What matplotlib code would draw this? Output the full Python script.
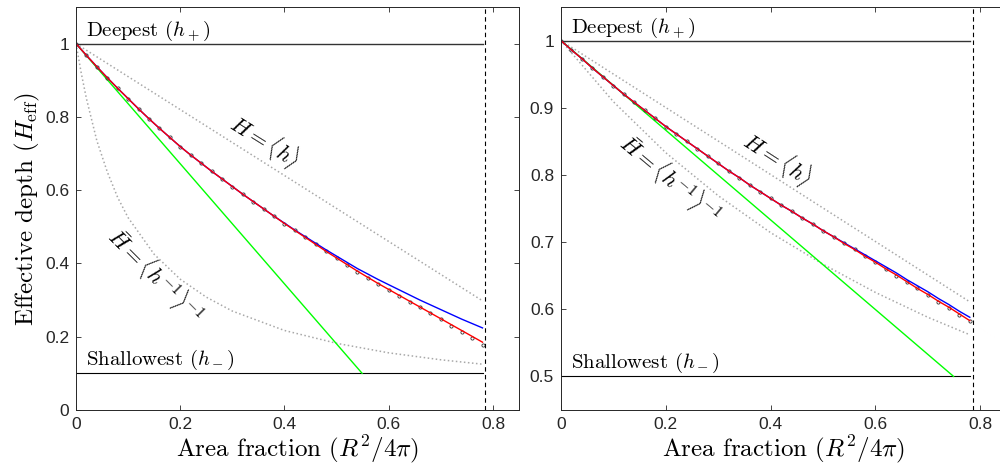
import numpy as np
import matplotlib
matplotlib.use('Agg')
import matplotlib.pyplot as plt

plt.rcParams['mathtext.fontset'] = 'cm'
plt.rcParams['font.family'] = ['Liberation Sans', 'DejaVu Sans']

# ---------------------------  DATA  ---------------------------
X_END = 0.78            # curves stop here
X_MAX = 0.7854          # dashed vertical line (pi/4)
grid = np.round(np.arange(0, 0.781, 0.02), 2)

# left panel: h+ = 1, h- = 0.1
leftDeep, leftShallow = 1.0, 0.1
leftMeanX = [0, 0.78]
leftMeanY = [1.0, 0.298]
leftHarmX = [0, 0.01, 0.02, 0.04, 0.06, 0.08, 0.10, 0.15, 0.20, 0.25, 0.30, 0.40, 0.50, 0.60, 0.70, 0.78]
leftHarmY = [1, 0.92, 0.85, 0.735, 0.65, 0.58, 0.525, 0.425, 0.357, 0.308, 0.27, 0.217, 0.182, 0.156, 0.137, 0.125]
leftGreenX = [0, 0.549]
leftGreenY = [1.0, 0.1]
leftRed = [1.000, 0.968, 0.937, 0.907, 0.878, 0.850, 0.822, 0.795, 0.769, 0.744,
           0.719, 0.696, 0.674, 0.652, 0.631, 0.610, 0.589, 0.569, 0.549, 0.529,
           0.509, 0.490, 0.471, 0.452, 0.433, 0.415, 0.397, 0.379, 0.362, 0.345,
           0.329, 0.313, 0.297, 0.281, 0.265, 0.249, 0.233, 0.217, 0.201, 0.185]
leftBlue = [1.000, 0.968, 0.937, 0.907, 0.878, 0.850, 0.822, 0.795, 0.769, 0.744,
            0.719, 0.696, 0.674, 0.652, 0.631, 0.610, 0.589, 0.569, 0.549, 0.529,
            0.510, 0.491, 0.473, 0.455, 0.437, 0.420, 0.403, 0.386, 0.371, 0.356,
            0.342, 0.328, 0.314, 0.300, 0.287, 0.274, 0.261, 0.248, 0.236, 0.224]
leftDots = [1.000, 0.968, 0.937, 0.907, 0.878, 0.850, 0.822, 0.795, 0.769, 0.744,
            0.719, 0.696, 0.674, 0.652, 0.631, 0.610, 0.589, 0.569, 0.549, 0.529,
            0.509, 0.490, 0.471, 0.452, 0.433, 0.414, 0.396, 0.378, 0.361, 0.344,
            0.328, 0.312, 0.296, 0.280, 0.264, 0.247, 0.230, 0.213, 0.196, 0.177]

# right panel: h+ = 1, h- = 0.5
rightDeep, rightShallow = 1.0, 0.5
rightMeanX = [0, 0.78]
rightMeanY = [1.0, 0.611]
rightHarmX = [0, 0.1, 0.2, 0.3, 0.4, 0.5, 0.6, 0.7, 0.78]
rightHarmY = [1, 0.909, 0.833, 0.769, 0.714, 0.667, 0.625, 0.588, 0.562]
rightGreenX = [0, 0.749]
rightGreenY = [1.0, 0.5]
rightRed = [1.000, 0.986, 0.973, 0.959, 0.946, 0.933, 0.920, 0.908, 0.896, 0.884,
            0.872, 0.861, 0.850, 0.839, 0.828, 0.817, 0.806, 0.796, 0.785, 0.775,
            0.765, 0.755, 0.746, 0.736, 0.727, 0.717, 0.708, 0.698, 0.689, 0.679,
            0.670, 0.660, 0.651, 0.641, 0.631, 0.622, 0.612, 0.603, 0.593, 0.583]
rightBlue = [1.000, 0.986, 0.973, 0.959, 0.946, 0.933, 0.920, 0.908, 0.896, 0.884,
             0.872, 0.861, 0.850, 0.839, 0.828, 0.817, 0.806, 0.796, 0.785, 0.775,
             0.765, 0.755, 0.746, 0.736, 0.727, 0.717, 0.708, 0.699, 0.690, 0.681,
             0.672, 0.663, 0.654, 0.644, 0.635, 0.626, 0.616, 0.607, 0.597, 0.588]
rightDots = [1.000, 0.986, 0.973, 0.959, 0.946, 0.933, 0.920, 0.908, 0.896, 0.884,
             0.872, 0.861, 0.850, 0.839, 0.828, 0.817, 0.806, 0.796, 0.785, 0.775,
             0.765, 0.755, 0.746, 0.736, 0.727, 0.717, 0.708, 0.698, 0.689, 0.679,
             0.670, 0.660, 0.650, 0.641, 0.631, 0.621, 0.611, 0.602, 0.592, 0.582]

xTicks = [0, 0.2, 0.4, 0.6, 0.8]
xTickLabels = ['0', '0.2', '0.4', '0.6', '0.8']
leftYTicks = [0, 0.2, 0.4, 0.6, 0.8, 1.0]
leftYTickLabels = ['0', '0.2', '0.4', '0.6', '0.8', '1']
rightYTicks = [0.5, 0.6, 0.7, 0.8, 0.9, 1.0]
rightYTickLabels = ['0.5', '0.6', '0.7', '0.8', '0.9', '1']

SERIF = 'cmr10'
AXCOL = '#262626'


def drawPanel(ax, deep, shallow, meanX, meanY, harmX, harmY, greenX, greenY,
              red, blue, dots, ylim, yTicks, yTickLabels):
    ax.plot(meanX, meanY, ':', color='#a8a8a8', lw=1.1)
    ax.plot(harmX, harmY, ':', color='#a8a8a8', lw=1.1)
    ax.plot([0, X_END], [deep, deep], color='#333333', lw=1.0)
    ax.plot([0, X_END], [shallow, shallow], color='k', lw=0.8)
    ax.plot(greenX, greenY, color='#00ff00', lw=1.0)
    ax.plot(grid, dots, 'o', ms=2.3, mfc='none', mec='#333333', mew=0.6)
    ax.plot(grid, blue, color='#0000ff', lw=1.0)
    ax.plot(grid, red, color='#ff0000', lw=1.0)
    ax.axvline(X_MAX, color='k', lw=0.8, ls=(0, (4, 3)))
    ax.set_xlim(0, 0.85)
    ax.set_ylim(*ylim)
    ax.set_xticks(xTicks)
    ax.set_xticklabels(xTickLabels)
    ax.set_yticks(yTicks)
    ax.set_yticklabels(yTickLabels)
    ax.tick_params(direction='in', length=3.5, width=0.6, top=True, right=True,
                   labelsize=12.5, colors=AXCOL, pad=5)
    for s in ax.spines.values():
        s.set_color(AXCOL)
        s.set_linewidth(0.7)
    ax.set_xlabel(r'Area fraction $(R^2/4\pi)$', fontname=SERIF, fontsize=18, labelpad=1)
    ax.annotate(r'Deepest $(h_+)$', (0.02, deep), xytext=(0, 6), textcoords='offset points',
                fontname=SERIF, fontsize=15, va='baseline')
    ax.annotate(r'Shallowest $(h_-)$', (0.02, shallow), xytext=(0, 6), textcoords='offset points',
                fontname=SERIF, fontsize=15, va='baseline')


fig = plt.figure(figsize=(10, 4.7), dpi=100)
ax1 = fig.add_axes([0.076, 0.1277, 0.443, 0.8574])
ax2 = fig.add_axes([0.561, 0.1277, 0.4455, 0.8574])

drawPanel(ax1, leftDeep, leftShallow, leftMeanX, leftMeanY, leftHarmX, leftHarmY,
          leftGreenX, leftGreenY, leftRed, leftBlue, leftDots, (0, 1.1),
          leftYTicks, leftYTickLabels)
drawPanel(ax2, rightDeep, rightShallow, rightMeanX, rightMeanY, rightHarmX, rightHarmY,
          rightGreenX, rightGreenY, rightRed, rightBlue, rightDots, (0.45, 1.05),
          rightYTicks, rightYTickLabels)

ax1.set_ylabel(r'Effective depth $(H_{\mathrm{eff}})$', fontname=SERIF, fontsize=18, labelpad=2)

ax1.text(0.363, 0.734, r'$H = \langle h \rangle$', fontsize=16, rotation=-32,
         ha='center', va='center')
ax1.text(0.152, 0.368, r'$\bar{H} = \langle h^{-1} \rangle^{-1}$', fontsize=16, rotation=-45,
         ha='center', va='center')
ax2.text(0.413, 0.824, r'$H = \langle h \rangle$', fontsize=16, rotation=-33,
         ha='center', va='center')
ax2.text(0.208, 0.795, r'$\bar{H} = \langle h^{-1} \rangle^{-1}$', fontsize=16, rotation=-40,
         ha='center', va='center')

fig.savefig('out.png', dpi=100)
